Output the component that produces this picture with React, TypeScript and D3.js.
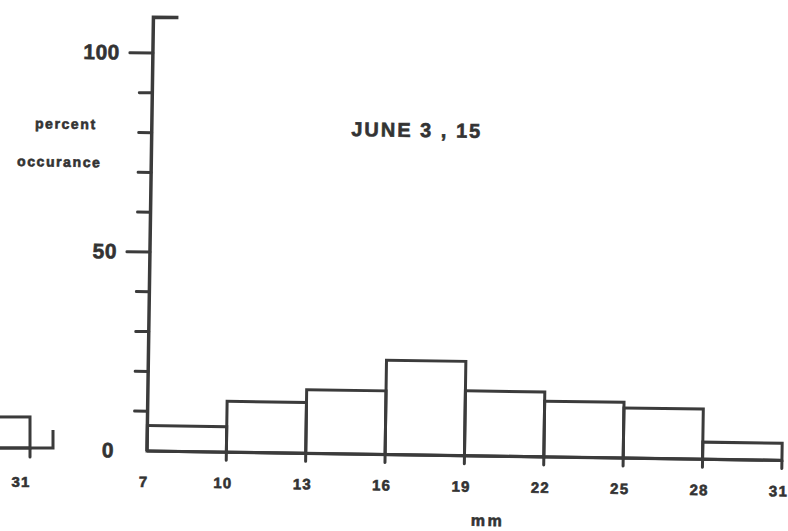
import React, { useRef, useEffect } from 'react';
import * as d3 from 'd3';

// bin edges (mm) and percent occurance per bin
const binEdges = [7, 10, 13, 16, 19, 22, 25, 28, 31];
const percents = [6.4, 12.8, 16.0, 23.7, 16.3, 14.0, 12.6, 4.3];

const yTicks = [10, 20, 30, 40, 50, 60, 70, 80, 90, 100];
const yMajor = [50, 100];
const yLabels = [0, 50, 100];

const title = 'JUNE 3 , 15';
const yTitle = ['percent', 'occurance'];
const xTitle = 'mm';

// the neighbouring chart on the page: only its last bin shows at the left edge
const prevEdges = [28, 31];
const prevPercents = [7.8];

const ink = '#3b3b3b';
const font = '"Liberation Sans", Arial, sans-serif';

// heavy "typewriter" lettering like the scan
const lettering = (sel: any, size: number, spacing: number) =>
  sel
    .style('font-family', font)
    .style('font-weight', 'bold')
    .style('font-size', `${size}px`)
    .style('letter-spacing', `${spacing}px`)
    .style('fill', '#333')
    .style('stroke', '#333')
    .style('stroke-width', 0.6);

const App = () => {
  const svgRef = useRef<SVGSVGElement>(null);

  useEffect(() => {
    const width = 788;
    const height = 531;
    const origin = { x: 147, y: 451 };
    const tilt = 0.85; // the scan is slightly rotated

    const svg = d3.select(svgRef.current);
    svg.selectAll('*').remove();
    svg.attr('width', width).attr('height', height);

    svg.append('rect').attr('width', width).attr('height', height).attr('fill', '#fff');

    //scales
    const x = d3.scaleLinear().domain([7, 31]).range([0, 635]);
    const y = d3.scaleLinear().domain([0, 100]).range([0, -398]);

    const g = svg.append('g')
      .attr('transform', `translate(${origin.x},${origin.y}) rotate(${tilt})`);

    //bars
    const bins = percents.map((p, i) => ({ x0: binEdges[i], x1: binEdges[i + 1], p }));
    g.selectAll('rect.bar')
      .data(bins)
      .join('rect')
      .attr('class', 'bar')
      .attr('x', d => x(d.x0))
      .attr('y', d => y(d.p))
      .attr('width', d => x(d.x1) - x(d.x0))
      .attr('height', d => y(0) - y(d.p))
      .attr('fill', 'none')
      .attr('stroke', ink)
      .attr('stroke-width', 3);

    //x axis baseline and ticks below it
    g.append('line')
      .attr('x1', x(7)).attr('x2', x(31))
      .attr('y1', y(0)).attr('y2', y(0))
      .attr('stroke', ink).attr('stroke-width', 3.2);

    g.selectAll('line.xtick')
      .data(binEdges.slice(1))
      .join('line')
      .attr('class', 'xtick')
      .attr('x1', d => x(d)).attr('x2', d => x(d))
      .attr('y1', y(0)).attr('y2', y(0) + 8)
      .attr('stroke', ink).attr('stroke-width', 3)
      .attr('stroke-linecap', 'round');

    lettering(
      g.selectAll('text.xlab')
        .data(binEdges)
        .join('text')
        .attr('class', 'xlab')
        .attr('x', d => x(d) - 3)
        .attr('y', 36)
        .attr('text-anchor', 'middle')
        .text(d => d),
      15, 1.2
    );

    lettering(
      g.append('text')
        .attr('x', x(19) + 24)
        .attr('y', 70)
        .attr('text-anchor', 'middle')
        .text(xTitle),
      16, 2.5
    );

    //y axis with the little cap at the top
    g.append('path')
      .attr('d', `M0,${y(0)} L0,${y(109)} L25,${y(109)}`)
      .attr('fill', 'none')
      .attr('stroke', ink).attr('stroke-width', 3.5);

    g.selectAll('line.ytick')
      .data(yTicks)
      .join('line')
      .attr('class', 'ytick')
      .attr('x1', d => (yMajor.includes(d) ? -23 : -13)).attr('x2', 0)
      .attr('y1', d => y(d)).attr('y2', d => y(d))
      .attr('stroke', ink).attr('stroke-width', 3)
      .attr('stroke-linecap', 'round');

    lettering(
      g.selectAll('text.ylab')
        .data(yLabels)
        .join('text')
        .attr('class', 'ylab')
        .attr('x', -33)
        .attr('y', d => y(d) + 7)
        .attr('text-anchor', 'end')
        .text(d => d),
      21, 0.5
    );

    lettering(
      g.selectAll('text.ytitle')
        .data(yTitle)
        .join('text')
        .attr('class', 'ytitle')
        .attr('x', (d, i) => (i === 0 ? -86 : -92))
        .attr('y', (d, i) => (i === 0 ? -321 : -283))
        .attr('text-anchor', 'middle')
        .text(d => d),
      14, 1.6
    );

    //title
    lettering(
      g.append('text')
        .attr('x', 265)
        .attr('y', -318)
        .attr('text-anchor', 'middle')
        .text(title),
      20, 2
    );

    //fragment of the previous chart at the left edge
    const px = d3.scaleLinear().domain([7, 31]).range([30 - 635, 30]);
    const py = d3.scaleLinear().domain([0, 100]).range([448, 50]);
    const pg = svg.append('g');
    pg.selectAll('rect')
      .data(prevPercents.map((p, i) => ({ x0: prevEdges[i], x1: prevEdges[i + 1], p })))
      .join('rect')
      .attr('x', d => px(d.x0))
      .attr('y', d => py(d.p))
      .attr('width', d => px(d.x1) - px(d.x0))
      .attr('height', d => py(0) - py(d.p))
      .attr('fill', 'none')
      .attr('stroke', ink).attr('stroke-width', 3);
    pg.append('path')
      .attr('d', `M${px(28)},${py(0)} L${px(31) + 23},${py(0)} L${px(31) + 23},${py(0) - 18}`)
      .attr('fill', 'none')
      .attr('stroke', ink).attr('stroke-width', 3);
    pg.append('line')
      .attr('x1', px(31)).attr('x2', px(31))
      .attr('y1', py(0)).attr('y2', py(0) + 9)
      .attr('stroke', ink).attr('stroke-width', 3)
      .attr('stroke-linecap', 'round');
    lettering(
      pg.append('text')
        .attr('x', px(31) - 9)
        .attr('y', 487)
        .attr('text-anchor', 'middle')
        .text(31),
      15, 1.2
    );
  }, []);

  return (
    <svg ref={svgRef} style={{ position: 'absolute', left: 0, top: 0 }}></svg>
  );
};

export default App;
